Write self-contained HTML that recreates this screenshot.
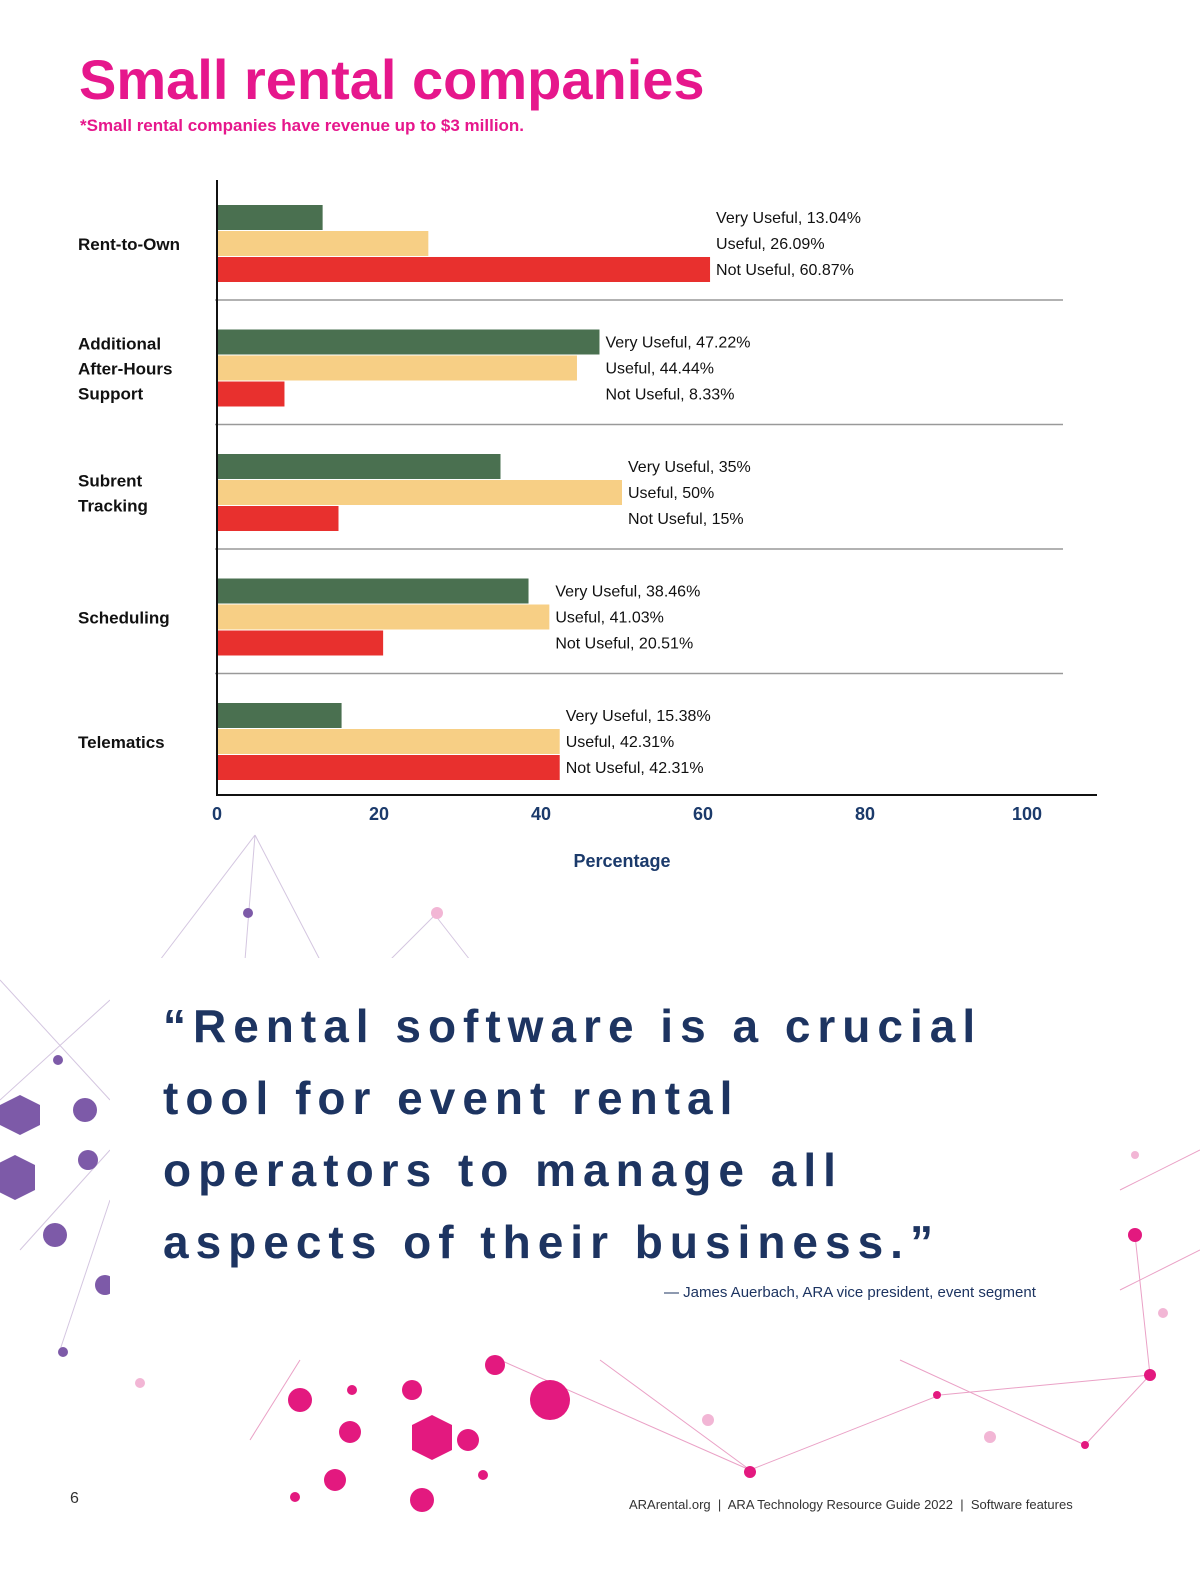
<!DOCTYPE html>
<html><head><meta charset="utf-8"><style>
body{margin:0;width:1200px;height:1582px;background:#fff;font-family:"Liberation Sans",sans-serif;position:relative;overflow:hidden}
.abs{position:absolute}
.ql{display:block;white-space:nowrap}
</style></head><body>
<svg class="abs" style="left:0;top:0" width="1200" height="1582">
<g stroke="#c9b8d8" stroke-width="1" fill="none" opacity="0.8">
<path d="M255 835 L160 960 M255 835 L245 960 M255 835 L320 960 M435 915 L390 960 M435 915 L470 960 M0 980 L110 1100 M0 1100 L110 1000 M20 1250 L110 1150 M60 1350 L110 1200"/>
</g>
<g stroke="#e58ab8" stroke-width="1" fill="none" opacity="0.8">
<path d="M300 1360 L250 1440 M500 1360 L750 1470 M750 1470 L940 1395 M940 1395 L1150 1375 M1085 1445 L1150 1375 M1135 1235 L1150 1375 M1120 1190 L1200 1150 M600 1360 L750 1470 M900 1360 L1085 1445 M1120 1290 L1200 1250"/>
</g>
<g fill="#7d5aa8">
<polygon points="20,1095 40,1105 40,1125 20,1135 0,1125 0,1105"/><polygon points="15,1155 35,1165 35,1190 15,1200 -5,1190 -5,1165"/>
<circle cx="85" cy="1110" r="12"/><circle cx="88" cy="1160" r="10"/><circle cx="55" cy="1235" r="12"/><circle cx="105" cy="1285" r="10"/><circle cx="248" cy="913" r="5"/><circle cx="58" cy="1060" r="5"/><circle cx="63" cy="1352" r="5"/>
</g>
<g fill="#e3197f">
<polygon points="412,1425 432,1415 452,1425 452,1450 432,1460 412,1450"/><circle cx="550" cy="1400" r="20"/><circle cx="300" cy="1400" r="12"/><circle cx="350" cy="1432" r="11"/><circle cx="335" cy="1480" r="11"/><circle cx="422" cy="1500" r="12"/><circle cx="468" cy="1440" r="11"/><circle cx="412" cy="1390" r="10"/><circle cx="495" cy="1365" r="10"/><circle cx="295" cy="1497" r="5"/><circle cx="483" cy="1475" r="5"/><circle cx="352" cy="1390" r="5"/><circle cx="750" cy="1472" r="6"/><circle cx="1150" cy="1375" r="6"/><circle cx="1135" cy="1235" r="7"/><circle cx="1085" cy="1445" r="4"/><circle cx="937" cy="1395" r="4"/>
</g>
<g fill="#f2b6d5"><circle cx="437" cy="913" r="6"/><circle cx="990" cy="1437" r="6"/><circle cx="708" cy="1420" r="6"/><circle cx="140" cy="1383" r="5"/><circle cx="1163" cy="1313" r="5"/><circle cx="1135" cy="1155" r="4"/></g>
</svg>
<div class="abs" style="left:110px;top:958px;width:1008px;height:397px;background:#fff"></div>
<div class="abs" style="left:79px;top:47px;font-size:56px;font-weight:bold;color:#e6178c">Small rental companies</div>
<div class="abs" style="left:80px;top:116px;font-size:17px;font-weight:bold;color:#e6178c">*Small rental companies have revenue up to $3 million.</div>
<svg id="chart" class="abs" style="left:0;top:0" width="1200" height="900"></svg>
<div class="abs" style="left:163px;top:990px;font-size:46px;line-height:72px;color:#1d3461;font-weight:bold;letter-spacing:7px">
<span class="ql">“Rental software is a crucial</span><span class="ql">tool for event rental</span><span class="ql">operators to manage all</span><span class="ql">aspects of their business.”</span></div>
<div class="abs" style="left:664px;top:1284px;font-size:15px;color:#1d3461">— James Auerbach, ARA vice president, event segment</div>
<div class="abs" style="left:70px;top:1490px;font-size:16px;color:#333">6</div>
<div class="abs" style="left:629px;top:1497px;font-size:13px;color:#333">ARArental.org &nbsp;|&nbsp; ARA Technology Resource Guide 2022 &nbsp;|&nbsp; Software features</div>
<script>
const categories=["Rent-to-Own","Additional After-Hours Support","Subrent Tracking","Scheduling","Telematics"];
const catLines=[["Rent-to-Own"],["Additional","After-Hours","Support"],["Subrent","Tracking"],["Scheduling"],["Telematics"]];
const veryUseful=[13.04,47.22,35,38.46,15.38];
const useful=[26.09,44.44,50,41.03,42.31];
const notUseful=[60.87,8.33,15,20.51,42.31];
const veryLabels=["13.04%","47.22%","35%","38.46%","15.38%"];
const usefulLabels=["26.09%","44.44%","50%","41.03%","42.31%"];
const notLabels=["60.87%","8.33%","15%","20.51%","42.31%"];
const ticks=[0,20,40,60,80,100];
const svg=document.getElementById('chart');const NS='http://www.w3.org/2000/svg';
const x0=217,sc=8.1;const X=v=>x0+v*sc;
const G0=205,GS=124.5,BH=26;
function el(t,a,txt){const e=document.createElementNS(NS,t);for(const k in a)e.setAttribute(k,a[k]);if(txt!==undefined)e.textContent=txt;svg.appendChild(e);return e;}
const series=[[veryUseful,'#4a7050','Very Useful',veryLabels],[useful,'#f7cf85','Useful',usefulLabels],[notUseful,'#e8302e','Not Useful',notLabels]];
categories.forEach((c,i)=>{
 const gy=G0+i*GS;
 let mx=0;series.forEach(s=>mx=Math.max(mx,s[0][i]));
 series.forEach((s,j)=>{
  const r=el('rect',{x:x0,y:gy+j*BH,width:s[0][i]*sc,height:BH-1,fill:s[1]});
  
  
  const t=el('text',{x:X(mx)+6,y:gy+j*BH+18,'font-size':16,fill:'#111'},s[2]+', '+s[3][i]);
  
  
 });
 const lines=catLines[i];const cy=gy+BH*1.5;
 lines.forEach((ln,k)=>{const t=el('text',{x:78,y:cy+6+(k-(lines.length-1)/2)*25,'font-size':17,'font-weight':'bold',fill:'#111'},ln);
  
  });
 if(i<categories.length-1){const l=el('line',{x1:215,x2:1063,y1:gy+95,y2:gy+95,stroke:'#999','stroke-width':1.5});
  
  }
});
const ya=el('line',{x1:217,x2:217,y1:180,y2:796,stroke:'#111','stroke-width':2});


const xa=el('line',{x1:216,x2:1097,y1:795,y2:795,stroke:'#111','stroke-width':2});


ticks.forEach(v=>{const t=el('text',{x:X(v),y:820,'font-size':18,'font-weight':'bold',fill:'#1b3a6b','text-anchor':'middle'},String(v));
 
 });
const xt=el('text',{x:622,y:867,'font-size':18,'font-weight':'bold',fill:'#1b3a6b','text-anchor':'middle'},'Percentage');


</script>
</body></html>
